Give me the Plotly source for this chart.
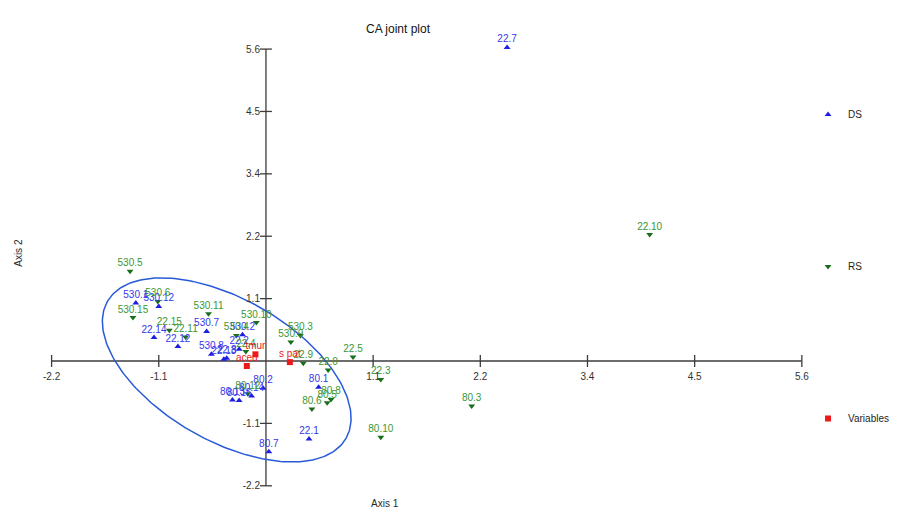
import numpy as np
import plotly.graph_objects as go

# ---------------- data ----------------
ds_labels = ["22.7", "530.1", "530.12", "22.14", "22.12", "530.7", "530.8", "22.13", "22.8",
             "530.2", "22.2", "80.2", "80.14", "80.16", "80.13", "80.1", "22.1", "80.7"]
ds_x = [2.52, -1.36, -1.12, -1.17, -0.92, -0.62, -0.57, -0.44, -0.41,
        -0.245, -0.28, -0.03, -0.15, -0.28, -0.35, 0.55, 0.45, 0.03]
ds_y = [5.63, 1.04, 0.98, 0.42, 0.26, 0.53, 0.12, 0.03, 0.05,
        0.47, 0.21, -0.49, -0.63, -0.71, -0.70, -0.47, -1.40, -1.63]

rs_labels = ["530.5", "530.6", "530.15", "22.15", "22.11", "530.11", "530.10", "530.4", "22.4",
             "530.3", "530.9", "22.9", "22.0", "22.5", "22.3", "80.6", "80.5", "80.8",
             "80.3", "80.10", "22.10", "80.12"]
rs_x = [-1.42, -1.13, -1.39, -1.01, -0.84, -0.60, -0.10, -0.31, -0.21,
        0.36, 0.26, 0.39, 0.65, 0.91, 1.20, 0.48, 0.64, 0.68,
        2.15, 1.20, 4.01, -0.19]
rs_y = [1.61, 1.07, 0.78, 0.55, 0.43, 0.85, 0.69, 0.46, 0.17,
        0.46, 0.34, -0.04, -0.16, 0.07, -0.33, -0.86, -0.75, -0.69,
        -0.81, -1.37, 2.27, -0.59]

var_labels = ["tmur", "aced", "s pat"]
var_x = [-0.11, -0.20, 0.25]
var_y = [0.12, -0.09, -0.02]

tick_vals = [-2.24, -1.12, 1.12, 2.24, 3.36, 4.48, 5.6]
tick_text = ["-2.2", "-1.1", "1.1", "2.2", "3.4", "4.5", "5.6"]
axis_min, axis_max = -2.24, 5.6

# ellipse (confidence region) parameters
ell_cx, ell_cy = -0.41, -0.16
ell_a, ell_b, ell_angle = 1.434, 0.735, 29.5   # semi axes in x-units (screen-scaled), angle in degrees

# ---------------- layout geometry ----------------
W, H = 906, 517
L, R, T, B = 40, 86, 30, 22
X0_PX, Y0_PX = 268, 361        # pixel position of the origin
px_x, px_y = 96.56, 55.7       # pixels per unit
xmin, xmax = -(X0_PX - L) / px_x, (W - R - X0_PX) / px_x
ymin, ymax = -(H - B - Y0_PX) / px_y, (Y0_PX - T) / px_y
LABEL_GAP = 7.5  # px between marker centre and label centre

BLUE = "rgb(30,30,225)"
BLUE_T = "rgb(55,55,235)"
GREEN = "rgb(25,110,25)"
GREEN_T = "rgb(60,150,50)"
RED = "rgb(235,25,25)"
AX = "rgb(60,60,60)"
FONT = "Liberation Sans"

fig = go.Figure()

# ellipse
t = np.linspace(0, 2 * np.pi, 240)
th = np.deg2rad(ell_angle)
a_px, b_px = ell_a * px_x, ell_b * px_x
dx = a_px * np.cos(t) * np.cos(th) - b_px * np.sin(t) * np.sin(th)
dy = a_px * np.cos(t) * np.sin(th) + b_px * np.sin(t) * np.cos(th)
fig.add_trace(go.Scatter(x=ell_cx + dx / px_x, y=ell_cy - dy / px_y, mode="lines",
                         line=dict(color="rgb(40,90,215)", width=1.5),
                         showlegend=False, hoverinfo="skip"))

series = [
    ("DS", ds_x, ds_y, ds_labels, "triangle-up", BLUE, BLUE_T),
    ("RS", rs_x, rs_y, rs_labels, "triangle-down", GREEN, GREEN_T),
    ("Variables", var_x, var_y, var_labels, "square", RED, RED),
]
for name, xs, ys, labs, sym, mc, tc in series:
    fig.add_trace(go.Scatter(x=xs, y=ys, mode="markers", name=name, legendgroup=name,
                             cliponaxis=False, text=labs,
                             marker=dict(symbol=sym, size=6, color=mc)))
for name, xs, ys, labs, sym, mc, tc in series:
    fig.add_trace(go.Scatter(x=xs, y=[v + LABEL_GAP / px_y for v in ys], mode="text",
                             text=labs, textposition="middle center", cliponaxis=False,
                             legendgroup=name, showlegend=False, hoverinfo="skip",
                             textfont=dict(color=tc, size=10, family=FONT)))

shapes = [
    dict(type="line", xref="x", yref="y", x0=axis_min, x1=axis_max, y0=0, y1=0,
         line=dict(color=AX, width=1.3), layer="below"),
    dict(type="line", xref="x", yref="y", x0=0, x1=0, y0=axis_min, y1=axis_max,
         line=dict(color=AX, width=1.3), layer="below"),
]
for v in tick_vals:
    shapes.append(dict(type="line", xref="x", yref="y", x0=v, x1=v, y0=-6 / px_y, y1=6 / px_y,
                       line=dict(color=AX, width=1.3), layer="below"))
    shapes.append(dict(type="line", xref="x", yref="y", x0=-6 / px_x, x1=6 / px_x, y0=v, y1=v,
                       line=dict(color=AX, width=1.3), layer="below"))

fig.update_layout(
    width=W, height=H, autosize=False,
    margin=dict(l=L, r=R, t=T, b=B),
    paper_bgcolor="white", plot_bgcolor="white",
    font=dict(family=FONT, size=10, color="rgb(40,40,40)"),
    shapes=shapes,
    xaxis=dict(range=[xmin, xmax], showgrid=False, zeroline=False, showline=False,
               tickvals=tick_vals, ticktext=tick_text, ticks="outside", ticklen=6,
               tickcolor="rgba(0,0,0,0)", anchor="free",
               position=(0 - ymin) / (ymax - ymin), automargin=False,
               tickfont=dict(size=10, color="rgb(50,50,50)")),
    yaxis=dict(range=[ymin, ymax], showgrid=False, zeroline=False, showline=False,
               tickvals=tick_vals, ticktext=tick_text, ticks="outside", ticklen=4,
               tickcolor="rgba(0,0,0,0)", anchor="free",
               position=(0 - xmin) / (xmax - xmin), automargin=False,
               tickfont=dict(size=10, color="rgb(50,50,50)")),
    legend=dict(x=(815 - L) / (W - L - R), xanchor="left",
                y=(H - B - 100) / (H - T - B), yanchor="top",
                tracegroupgap=133, font=dict(size=10, color="rgb(30,30,30)"),
                bgcolor="rgba(0,0,0,0)", itemwidth=30),
    annotations=[
        dict(text="CA joint plot", x=402, y=H - 20, showarrow=False,
             font=dict(size=12, color="rgb(20,20,20)")),
        dict(text="Axis 1", x=388, y=H - 511, showarrow=False, font=dict(size=10)),
        dict(text="Axis 2", x=10, y=H - 253, showarrow=False, textangle=-90, font=dict(size=10)),
    ],
)
# convert pixel-positioned annotations to paper coordinates
for ann in fig.layout.annotations:
    ann.x = (ann.x - L) / (W - L - R)
    ann.y = (ann.y - B) / (H - T - B)
    ann.xref = "paper"
    ann.yref = "paper"

fig.write_html(
    "out.html",
    config={"responsive": False, "displayModeBar": False},
    post_script=("document.body.style.margin='0px';"
                 "document.body.style.overflow='hidden';"
                 "document.documentElement.style.overflow='hidden';"
                 "Plotly.relayout(document.getElementById('{plot_id}'), {width: %d, height: %d});"
                 % (W, H)),
)
